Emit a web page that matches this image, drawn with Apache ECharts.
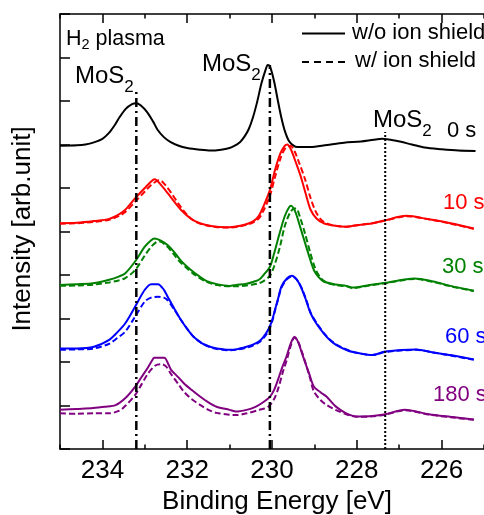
<!DOCTYPE html>
<html><head><meta charset="utf-8">
<script src="https://cdn.jsdelivr.net/npm/echarts@6/dist/echarts.min.js"></script>
<style>html,body{margin:0;padding:0;background:#fff}#c{width:484px;height:515px}</style>
</head><body><div id="c"></div>
<script>
// ---- data (binding energy [eV], intensity offset units) ----
const xLabelValues = [226, 228, 230, 232, 234];
const timeLabels = ['0 s', '10 s', '30 s', '60 s', '180 s'];
// reference peak positions: [energy, top of marker line]
const peakMarkers = [[233.2, 8.21], [230.05, 8.83], [227.33, 7.29]];

const s0_wo = [[235.0,6.97],[234.6,6.98],[234.4,7.00],[234.2,7.05],[234.0,7.13],[233.85,7.26],[233.7,7.46],[233.6,7.62],[233.45,7.82],[233.3,7.93],[233.2,7.95],[233.1,7.90],[232.95,7.75],[232.8,7.52],[232.7,7.34],[232.55,7.17],[232.4,7.06],[232.2,6.97],[232.0,6.92],[231.7,6.88],[231.45,6.86],[231.2,6.88],[231.0,6.92],[230.9,6.96],[230.75,7.06],[230.65,7.18],[230.55,7.35],[230.45,7.62],[230.35,7.98],[230.25,8.40],[230.15,8.72],[230.1,8.83],[230.05,8.80],[229.95,8.45],[229.86,8.00],[229.78,7.62],[229.7,7.32],[229.6,7.08],[229.5,6.98],[229.4,6.94],[229.1,6.94],[228.7,6.99],[228.3,7.04],[227.9,7.07],[227.6,7.11],[227.4,7.13],[227.1,7.09],[226.7,7.00],[226.4,6.93],[226.0,6.89],[225.6,6.86],[225.2,6.85]];

const s10_wo = [[235.0,5.19],[234.6,5.20],[234.2,5.24],[233.84,5.29],[233.6,5.40],[233.46,5.50],[233.23,5.76],[233.0,6.00],[232.85,6.15],[232.77,6.20],[232.6,6.05],[232.45,5.87],[232.31,5.69],[232.15,5.50],[231.92,5.30],[231.7,5.19],[231.54,5.15],[231.3,5.11],[231.0,5.10],[230.75,5.13],[230.54,5.19],[230.42,5.25],[230.31,5.36],[230.2,5.58],[230.05,5.95],[229.93,6.41],[229.8,6.80],[229.7,6.97],[229.64,7.00],[229.55,6.88],[229.45,6.62],[229.32,6.26],[229.2,5.85],[229.09,5.50],[228.95,5.30],[228.78,5.19],[228.5,5.13],[228.25,5.11],[228.09,5.13],[227.63,5.19],[227.33,5.26],[226.83,5.36],[226.3,5.28],[225.79,5.19],[225.24,5.07]];
const s10_w = [[235.0,5.18],[234.6,5.19],[234.2,5.22],[233.84,5.27],[233.6,5.36],[233.46,5.45],[233.23,5.68],[233.0,5.92],[232.85,6.07],[232.7,6.17],[232.65,6.18],[232.5,6.05],[232.35,5.85],[232.2,5.63],[232.0,5.38],[231.8,5.22],[231.54,5.14],[231.3,5.10],[231.0,5.09],[230.75,5.12],[230.54,5.17],[230.42,5.22],[230.31,5.30],[230.2,5.48],[230.05,5.82],[229.93,6.25],[229.8,6.68],[229.68,6.92],[229.56,6.97],[229.47,6.85],[229.36,6.58],[229.22,6.20],[229.1,5.80],[228.98,5.48],[228.85,5.28],[228.7,5.18],[228.5,5.13],[228.25,5.11],[228.09,5.13],[227.63,5.19],[227.33,5.25],[226.83,5.35],[226.3,5.28],[225.79,5.18],[225.24,5.06]];

const s30_wo = [[235.0,3.77],[234.6,3.79],[234.22,3.81],[233.84,3.89],[233.6,3.97],[233.46,4.04],[233.23,4.31],[233.0,4.65],[232.85,4.80],[232.77,4.84],[232.6,4.78],[232.45,4.68],[232.3,4.52],[232.15,4.33],[231.92,4.12],[231.7,3.96],[231.54,3.86],[231.3,3.79],[231.0,3.75],[230.85,3.77],[230.6,3.80],[230.45,3.84],[230.31,3.89],[230.2,4.00],[230.05,4.19],[229.95,4.50],[229.82,4.96],[229.7,5.35],[229.6,5.55],[229.55,5.59],[229.45,5.45],[229.35,5.15],[229.24,4.80],[229.12,4.42],[229.01,4.11],[228.9,3.95],[228.78,3.85],[228.5,3.78],[228.25,3.75],[228.09,3.71],[227.7,3.77],[227.33,3.82],[226.64,3.92],[226.2,3.85],[225.79,3.75],[225.24,3.64]];
const s30_w = [[235.0,3.75],[234.6,3.76],[234.2,3.78],[233.84,3.83],[233.6,3.88],[233.46,3.93],[233.23,4.11],[233.0,4.45],[232.85,4.65],[232.72,4.76],[232.65,4.77],[232.5,4.68],[232.35,4.52],[232.2,4.33],[232.0,4.15],[231.8,3.99],[231.54,3.84],[231.3,3.77],[231.0,3.74],[230.85,3.74],[230.6,3.76],[230.45,3.78],[230.31,3.81],[230.2,3.86],[230.05,3.98],[229.95,4.20],[229.82,4.62],[229.7,5.12],[229.58,5.42],[229.48,5.53],[229.43,5.53],[229.33,5.30],[229.22,4.95],[229.1,4.52],[228.98,4.15],[228.85,3.93],[228.7,3.82],[228.5,3.77],[228.25,3.74],[228.09,3.70],[227.7,3.76],[227.33,3.81],[226.64,3.91],[226.2,3.84],[225.79,3.74],[225.24,3.63]];

const s60_wo = [[235.0,2.31],[234.6,2.31],[234.2,2.35],[233.84,2.51],[233.65,2.68],[233.46,2.89],[233.23,3.27],[233.0,3.66],[232.85,3.79],[232.69,3.79],[232.55,3.66],[232.46,3.50],[232.3,3.22],[232.15,2.97],[232.0,2.76],[231.85,2.58],[231.65,2.43],[231.46,2.35],[231.3,2.31],[231.0,2.28],[230.85,2.29],[230.6,2.35],[230.45,2.40],[230.31,2.47],[230.2,2.58],[230.09,2.74],[230.0,2.95],[229.93,3.20],[229.85,3.48],[229.78,3.73],[229.65,3.92],[229.53,3.98],[229.42,3.90],[229.32,3.73],[229.2,3.43],[229.09,3.12],[228.95,2.88],[228.78,2.66],[228.63,2.50],[228.48,2.39],[228.2,2.26],[227.94,2.20],[227.63,2.16],[227.33,2.24],[226.6,2.29],[226.2,2.22],[225.79,2.16],[225.24,2.06]];
const s60_w = [[235.0,2.28],[234.6,2.29],[234.2,2.31],[233.84,2.42],[233.65,2.55],[233.46,2.70],[233.23,3.04],[233.0,3.39],[232.85,3.48],[232.69,3.50],[232.55,3.48],[232.46,3.42],[232.3,3.20],[232.15,2.97],[232.0,2.76],[231.85,2.58],[231.65,2.43],[231.46,2.34],[231.3,2.30],[231.0,2.27],[230.85,2.28],[230.6,2.33],[230.45,2.38],[230.31,2.45],[230.2,2.55],[230.09,2.70],[230.0,2.92],[229.93,3.18],[229.85,3.46],[229.78,3.70],[229.65,3.90],[229.53,3.97],[229.42,3.90],[229.32,3.74],[229.2,3.45],[229.09,3.14],[228.95,2.90],[228.78,2.67],[228.63,2.51],[228.48,2.40],[228.2,2.27],[227.94,2.20],[227.63,2.16],[227.33,2.23],[226.6,2.28],[226.2,2.22],[225.79,2.15],[225.24,2.05]];

const s180_wo = [[235.0,0.90],[234.6,0.92],[234.22,0.94],[233.95,0.97],[233.69,1.01],[233.45,1.18],[233.23,1.43],[233.08,1.65],[232.96,1.82],[232.8,2.08],[232.77,2.10],[232.54,2.10],[232.45,1.96],[232.38,1.82],[232.2,1.64],[232.08,1.51],[231.9,1.36],[231.69,1.20],[231.5,1.07],[231.31,0.97],[231.0,0.90],[230.85,0.86],[230.6,0.90],[230.39,0.97],[230.2,1.08],[230.05,1.20],[229.95,1.36],[229.86,1.59],[229.75,1.90],[229.66,2.12],[229.56,2.42],[229.47,2.58],[229.38,2.45],[229.3,2.22],[229.24,2.05],[229.12,1.72],[229.01,1.43],[228.85,1.30],[228.71,1.20],[228.5,0.98],[228.25,0.82],[228.0,0.75],[227.63,0.76],[227.33,0.80],[226.87,0.90],[226.3,0.80],[225.79,0.74],[225.24,0.68]];
const s180_w = [[235.0,0.82],[234.6,0.81],[234.2,0.82],[233.84,0.82],[233.6,0.88],[233.45,1.00],[233.23,1.24],[233.08,1.48],[232.92,1.74],[232.75,1.92],[232.61,1.95],[232.5,1.90],[232.38,1.72],[232.2,1.48],[232.08,1.32],[231.9,1.15],[231.69,1.01],[231.5,0.90],[231.31,0.83],[231.0,0.79],[230.85,0.78],[230.6,0.82],[230.3,0.90],[230.09,0.97],[229.95,1.15],[229.85,1.40],[229.75,1.75],[229.65,2.05],[229.55,2.40],[229.47,2.56],[229.4,2.50],[229.3,2.25],[229.2,1.95],[229.1,1.62],[229.01,1.32],[228.85,1.12],[228.71,1.01],[228.5,0.90],[228.25,0.80],[228.0,0.74],[227.63,0.75],[227.33,0.79],[226.87,0.89],[226.3,0.79],[225.79,0.73],[225.24,0.67]];

// ---- styling ----
const F = "'Liberation Sans', Arial, Helvetica, sans-serif";
const colors = ['#000000', '#ff0000', '#008000', '#0000ff', '#800080'];
const DASH = [6, 3];

const curves = [
  {d: s0_wo, c: 0, dashed: false},
  {d: s10_wo, c: 1, dashed: false}, {d: s10_w, c: 1, dashed: true},
  {d: s30_wo, c: 2, dashed: false}, {d: s30_w, c: 2, dashed: true},
  {d: s60_wo, c: 3, dashed: false}, {d: s60_w, c: 3, dashed: true},
  {d: s180_wo, c: 4, dashed: false}, {d: s180_w, c: 4, dashed: true}
];

const series = curves.map(s => ({
  type: 'line', data: s.d, symbol: 'none', smooth: 0.3, silent: true,
  lineStyle: {color: colors[s.c], width: 2, type: s.dashed ? DASH : 'solid'}
}));
const markerTypes = [[9, 4, 2, 4], [9, 4, 2, 4], [2, 2]];
peakMarkers.forEach((p, i) => {
  series.push({
    type: 'line', data: [[p[0], 0], [p[0], p[1]]], symbol: 'none', silent: true,
    lineStyle: {color: '#000', width: i < 2 ? 2.5 : 2, type: markerTypes[i]}
  });
});

function axisX(pos) {
  return {
    type: 'value', position: pos, min: 225, max: 235, interval: 2, inverse: true,
    axisLine: {onZero: false, lineStyle: {color: '#000', width: 1.5}},
    axisTick: {inside: true, length: 4.5, lineStyle: {color: '#000', width: 1.5}},
    minorTick: {show: true, splitNumber: 2, length: 9, lineStyle: {color: '#000', width: 1.5}},
    axisLabel: pos === 'bottom'
      ? {show: true, customValues: xLabelValues, color: '#000', fontSize: 26, fontFamily: F, margin: 9}
      : {show: false},
    splitLine: {show: false}, minorSplitLine: {show: false}
  };
}

// text with subscript: main glyph centre at y (cy), subscript dropped by `drop` px
function subLabel(x, cy, main, subText, size, subSize, drop) {
  const lh = size;
  const subLH = subSize;
  const pad = Math.max(0, lh / 2 + drop - subLH / 2);
  return {
    type: 'text', silent: true, z: 100,
    style: {
      x: x, y: cy - lh / 2, text: '{m|' + main + '}{s|' + subText + '}', fill: '#000',
      fontSize: size, fontFamily: F, verticalAlign: 'top', align: 'left',
      rich: {
        m: {fontSize: size, fontFamily: F, lineHeight: lh, verticalAlign: 'top'},
        s: {fontSize: subSize, fontFamily: F, lineHeight: subLH, verticalAlign: 'top', padding: [pad, 0, 0, 0]}
      }
    }
  };
}
function label(x, cy, text, size, color) {
  return {
    type: 'text', silent: true, z: 100,
    style: {x: x, y: cy, text: text, fill: color, fontSize: size, fontFamily: F, verticalAlign: 'middle', align: 'left'}
  };
}

const labelPos = [[447, 131], [443, 203], [442, 267], [445, 337], [433, 395]];
const graphic = [
  {type: 'group', children: [
    subLabel(66, 39, 'H', '2', 21.5, 14.5, 6),
    label(66 + 15.5 + 8, 39, ' plasma', 21.5, '#000')
  ]},
  subLabel(75, 76, 'MoS', '2', 24, 17, 11),
  subLabel(202, 64, 'MoS', '2', 24, 17, 11),
  subLabel(373, 120, 'MoS', '2', 24, 17, 11),
  {type: 'line', silent: true, shape: {x1: 302, y1: 33.5, x2: 345, y2: 33.5}, style: {stroke: '#000', lineWidth: 2}},
  label(352, 33, 'w/o ion shield', 22, '#000'),
  {type: 'line', silent: true, shape: {x1: 302, y1: 62, x2: 345, y2: 62}, style: {stroke: '#000', lineWidth: 2, lineDash: [7, 5]}},
  label(355, 61, 'w/ ion shield', 22, '#000'),
  {type: 'text', silent: true, style: {x: 277, y: 502, text: 'Binding Energy [eV]', fill: '#000', fontSize: 26, fontFamily: F, align: 'center', verticalAlign: 'middle'}},
  {type: 'text', silent: true, x: 23, y: 229, rotation: Math.PI / 2, style: {x: 0, y: 0, text: 'Intensity [arb.unit]', fill: '#000', fontSize: 26, fontFamily: F, align: 'center', verticalAlign: 'middle'}}
];
timeLabels.forEach((t, i) => graphic.push(label(labelPos[i][0], labelPos[i][1], t, 22, colors[i])));

const chart = echarts.init(document.getElementById('c'), null, {renderer: 'canvas'});
chart.setOption({
  animation: false,
  backgroundColor: '#fff',
  grid: {left: 60, right: -10.5, top: 14, bottom: 66},
  xAxis: [axisX('bottom'), axisX('top')],
  yAxis: {
    type: 'value', min: 0, max: 10, interval: 1,
    axisLine: {show: true, onZero: false, lineStyle: {color: '#000', width: 1.5}},
    axisTick: {show: true, inside: true, length: 10, lineStyle: {color: '#000', width: 1.5}},
    axisLabel: {show: false}, splitLine: {show: false}
  },
  series: series,
  graphic: graphic
});
</script></body></html>
